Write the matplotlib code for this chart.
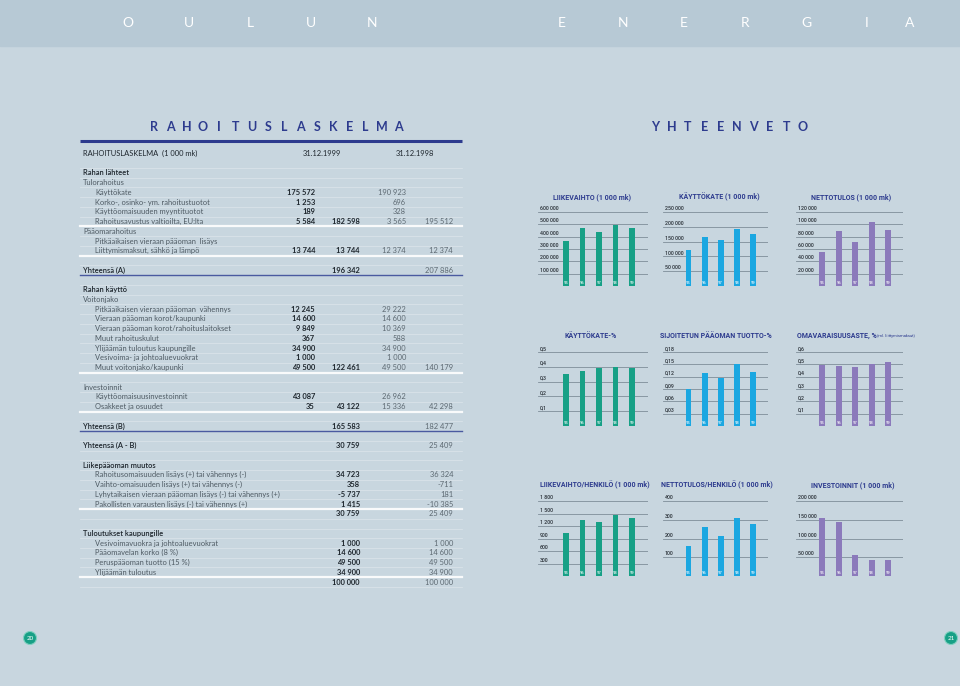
import matplotlib
matplotlib.use('Agg')
import matplotlib.pyplot as plt
from matplotlib.patches import Circle, Rectangle

W, H = 960, 686
BG = '#c8d6df'
BAND = '#b7c9d5'
NAVY = '#2d3b8e'
GREEN = '#17a086'
BLUE = '#1ba7e1'
PURPLE = '#8b7abb'
GRID = '#7e8e99'
DARK = '#1e262d'
GREY = '#4e5a63'
GREY98 = '#5d6972'

# ---------------- chart data ----------------
years = ['95', '96', '97', '98', '99']
liikevaihto = [366000, 470000, 437000, 491000, 467000]
kayttokate = [122000, 165000, 157000, 190923, 175572]
nettotulos = [55000, 88500, 72000, 103000, 91000]
kayttokate_pct = [0.353, 0.373, 0.389, 0.396, 0.394]
sijoitetun_tuotto = [0.091, 0.129, 0.116, 0.152, 0.132]
omavaraisuus = [0.498, 0.484, 0.479, 0.506, 0.517]
liikevaihto_henk = [1043, 1354, 1306, 1465, 1386]
nettotulos_henk = [159, 260, 216, 310, 280]
investoinnit = [155000, 143000, 55000, 42298, 43122]

ticks_lv = [100000, 200000, 300000, 400000, 500000, 600000]
labels_lv = ['100 000', '200 000', '300 000', '400 000', '500 000', '600 000']
ticks_kk = [50000, 100000, 150000, 200000, 250000]
labels_kk = ['50 000', '100 000', '150 000', '200 000', '250 000']
ticks_nt = [20000, 40000, 60000, 80000, 100000, 120000]
labels_nt = ['20 000', '40 000', '60 000', '80 000', '100 000', '120 000']
ticks_kkp = [0.1, 0.2, 0.3, 0.4, 0.5]
labels_kkp = ['0,1', '0,2', '0,3', '0,4', '0,5']
ticks_st = [0.03, 0.06, 0.09, 0.12, 0.15, 0.18]
labels_st = ['0,03', '0,06', '0,09', '0,12', '0,15', '0,18']
ticks_ov = [0.1, 0.2, 0.3, 0.4, 0.5, 0.6]
labels_ov = ['0,1', '0,2', '0,3', '0,4', '0,5', '0,6']
ticks_lvh = [300, 600, 900, 1200, 1500, 1800]
labels_lvh = ['300', '600', '900', '1 200', '1 500', '1 800']
ticks_nth = [100, 200, 300, 400]
labels_nth = ['100', '200', '300', '400']
ticks_inv = [50000, 100000, 150000, 200000]
labels_inv = ['50 000', '100 000', '150 000', '200 000']

chart_titles = ['LIIKEVAIHTO (1 000 mk)', 'KÄYTTÖKATE (1 000 mk)', 'NETTOTULOS (1 000 mk)',
                'KÄYTTÖKATE-%', 'SIJOITETUN PÄÄOMAN TUOTTO-%', 'OMAVARAISUUSASTE, %',
                'LIIKEVAIHTO/HENKILÖ (1 000 mk)', 'NETTOTULOS/HENKILÖ (1 000 mk)', 'INVESTOINNIT (1 000 mk)']
omav_note = '(ml. liittymismaksut)'

# ---------------- table data ----------------
row_labels = [
    'RAHOITUSLASKELMA  (1 000 mk)', '', 'Rahan lähteet', 'Tulorahoitus', 'Käyttökate',
    'Korko-, osinko- ym. rahoitustuotot', 'Käyttöomaisuuden myyntituotot',
    'Rahoitusavustus valtioilta, EU:lta', 'Pääomarahoitus', 'Pitkäaikaisen vieraan pääoman  lisäys',
    'Liittymismaksut, sähkö ja lämpö', '', 'Yhteensä (A)', '', 'Rahan käyttö', 'Voitonjako',
    'Pitkäaikaisen vieraan pääoman  vähennys', 'Vieraan pääoman korot/kaupunki',
    'Vieraan pääoman korot/rahoituslaitokset', 'Muut rahoituskulut', 'Ylijäämän tuloutus kaupungille',
    'Vesivoima- ja johtoaluevuokrat', 'Muut voitonjako/kaupunki', '', 'Investoinnit',
    'Käyttöomaisuusinvestoinnit', 'Osakkeet ja osuudet', '', 'Yhteensä (B)', '', 'Yhteensä (A - B)', '',
    'Liikepääoman muutos', 'Rahoitusomaisuuden lisäys (+) tai vähennys (-)',
    'Vaihto-omaisuuden lisäys (+) tai vähennys (-)',
    'Lyhytaikaisen vieraan pääoman lisäys (-) tai vähennys (+)',
    'Pakollisten varausten lisäys (-) tai vähennys (+)', '', '', 'Tuloutukset kaupungille',
    'Vesivoimavuokra ja johtoaluevuokrat', 'Pääomavelan korko (8 %)', 'Peruspääoman tuotto (15 %)',
    'Ylijäämän tuloutus', '']
row_styles = [
    'head', '', 'sec', 'sub', 'item', 'item', 'item', 'item', 'sub', 'item', 'item', '', 'total', '',
    'sec', 'sub', 'item', 'item', 'item', 'item', 'item', 'item', 'item', '', 'sub', 'item', 'item', '',
    'total', '', 'total', '', 'sec', 'item', 'item', 'item', 'item', 'sum', '', 'sec', 'item', 'item',
    'item', 'item', 'sum']
v99_items = ['', '', '', '', '175 572', '1 253', '189', '5 584', '', '', '13 744', '', '', '', '', '',
             '12 245', '14 600', '9 849', '367', '34 900', '1 000', '49 500', '', '', '43 087', '35', '',
             '', '', '', '', '', '', '', '', '', '', '', '', '', '', '', '', '']
v99_totals = ['', '', '', '', '', '', '', '182 598', '', '', '13 744', '', '196 342', '', '', '', '', '',
              '', '', '', '', '122 461', '', '', '', '43 122', '', '165 583', '', '30 759', '', '',
              '34 723', '358', '-5 737', '1 415', '30 759', '', '', '1 000', '14 600', '49 500',
              '34 900', '100 000']
v98_items = ['', '', '', '', '190 923', '696', '328', '3 565', '', '', '12 374', '', '', '', '', '',
             '29 222', '14 600', '10 369', '588', '34 900', '1 000', '49 500', '', '', '26 962', '15 336',
             '', '', '', '', '', '', '', '', '', '', '', '', '', '', '', '', '', '']
v98_totals = ['', '', '', '', '', '', '', '195 512', '', '', '12 374', '', '207 886', '', '', '', '', '',
              '', '', '', '', '140 179', '', '', '', '42 298', '', '182 477', '', '25 409', '', '',
              '36 324', '-711', '181', '-10 385', '25 409', '', '', '1 000', '14 600', '49 500',
              '34 900', '100 000']
col_headers = ['31.12.1999', '31.12.1998']
white_rule_after = [7, 10, 22, 26, 36, 43]
navy_rule_after = [12, 28]

top_left_letters = ['O', 'U', 'L', 'U', 'N']
top_right_letters = ['E', 'N', 'E', 'R', 'G', 'I', 'A']

TF = ['Lato', 'DejaVu Sans']
NARROW = ['Roboto', 'DejaVu Sans']

fig = plt.figure(figsize=(W / 100, H / 100), dpi=100)
fig.patch.set_facecolor(BG)
bg = fig.add_axes([0, 0, 1, 1])
bg.set_xlim(0, W)
bg.set_ylim(H, 0)
bg.axis('off')

# top band
bg.add_patch(Rectangle((0, 0), W, 46, color=BAND, zorder=0))
for i, ch in enumerate(top_left_letters):
    bg.text(128 + i * 61, 23, ch, color='white', fontsize=10, ha='center', va='center', family=TF)
for i, ch in enumerate(top_right_letters):
    x = 562 + i * 61 if i < 6 else 910
    bg.text(x, 23, ch, color='white', fontsize=10, ha='center', va='center', family=TF)

# section titles
for i, ch in enumerate('RAHOITUSLASKELMA'):
    bg.text(154 + i * 16.27, 127, ch, color=NAVY, fontsize=9, fontweight='bold', ha='center',
            va='center', family=TF)
for i, ch in enumerate('YHTEENVETO'):
    bg.text(655 + i * 16.4, 127, ch, color=NAVY, fontsize=9, fontweight='bold', ha='center',
            va='center', family=TF)
bg.plot([80, 462], [141, 141], color=NAVY, lw=2.2, solid_capstyle='butt')

# ---------------- table ----------------
Y0, DY = 153.3, 9.745
cols = [315, 360, 406, 453]
FS = 5.4
for i in range(len(row_labels)):
    y = Y0 + i * DY
    st = row_styles[i]
    lab = row_labels[i]
    if i >= 1:
        if i in white_rule_after:
            bg.plot([80, 462], [y + 4.9, y + 4.9], color='white', lw=1.6, alpha=0.9)
        elif i in navy_rule_after:
            bg.plot([80, 462], [y + 4.9, y + 4.9], color='#4a5aa0', lw=1.0)
        else:
            bg.plot([80, 462], [y + 4.9, y + 4.9], color='white', lw=0.6, alpha=0.3)
    if st == 'head':
        bg.text(83, y, lab, fontsize=FS, color=DARK, va='center', ha='left', family=TF)
        bg.text(322, y, col_headers[0], fontsize=FS, color=DARK, va='center', ha='center', family=TF)
        bg.text(415, y, col_headers[1], fontsize=FS, color=DARK, va='center', ha='center', family=TF)
        continue
    if st in ('sec', 'total'):
        bg.text(83, y, lab, fontsize=FS, color=DARK, va='center', ha='left', family=TF,
                fontweight='semibold')
    elif st == 'sub':
        bg.text(83, y, lab, fontsize=FS, color=GREY, va='center', ha='left', family=TF)
    elif st == 'item':
        bg.text(95, y, lab, fontsize=FS, color=GREY, va='center', ha='left', family=TF)
    if v99_items[i]:
        bg.text(cols[0], y, v99_items[i], fontsize=FS, color=DARK, va='center', ha='right',
                family=TF, fontweight='bold')
    if v99_totals[i]:
        bg.text(cols[1], y, v99_totals[i], fontsize=FS, color=DARK, va='center', ha='right',
                family=TF, fontweight='bold')
    if v98_items[i]:
        bg.text(cols[2], y, v98_items[i], fontsize=FS, color=GREY98, va='center', ha='right',
                family=TF)
    if v98_totals[i]:
        bg.text(cols[3], y, v98_totals[i], fontsize=FS, color=GREY98, va='center', ha='right',
                family=TF)

# ---------------- charts ----------------
col_geom = [(538, 648, (-1.7, 4.97)), (663, 768, (-1.58, 4.93)), (796, 903, (-1.6, 4.9))]
row_geom = [(212, 286), (352, 426), (501, 576)]
title_pos = [(592, 197), (719, 197), (851, 197), (591, 336), (716, 336), (797, 336),
             (595, 485), (717, 485), (853, 485)]

charts = [
    (liikevaihto, ticks_lv, labels_lv, GREEN),
    (kayttokate, ticks_kk, labels_kk, BLUE),
    (nettotulos, ticks_nt, labels_nt, PURPLE),
    (kayttokate_pct, ticks_kkp, labels_kkp, GREEN),
    (sijoitetun_tuotto, ticks_st, labels_st, BLUE),
    (omavaraisuus, ticks_ov, labels_ov, PURPLE),
    (liikevaihto_henk, ticks_lvh, labels_lvh, GREEN),
    (nettotulos_henk, ticks_nth, labels_nth, BLUE),
    (investoinnit, ticks_inv, labels_inv, PURPLE),
]

for k, (vals, ticks, tlabels, color) in enumerate(charts):
    r, c = divmod(k, 3)
    l, rr, xl = col_geom[c]
    t, b = row_geom[r]
    ax = fig.add_axes([l / W, 1 - b / H, (rr - l) / W, (b - t) / H])
    ax.set_xlim(*xl)
    top = ticks[-1]
    ax.set_ylim(0, top)
    ax.axis('off')
    for tv, tl in zip(ticks, tlabels):
        ax.axhline(tv, color=GRID, lw=0.6, zorder=1)
        ax.text(xl[0] + 0.1, tv + top * 0.012, tl, fontsize=3.8, color='#2a3138', ha='left',
                va='bottom', family=NARROW, fontweight='medium')
    ax.axhline(0, color=GRID, lw=0.6, zorder=1)
    xs = list(range(len(years)))
    ax.bar(xs, vals, width=0.36, color=color, zorder=3, linewidth=0)
    for x, yr in zip(xs, years):
        ax.text(x, top * 0.012, yr, fontsize=3.0, color='white', alpha=0.75, ha='center',
                va='bottom', zorder=4, family=NARROW, fontweight='bold')
    tx, ty = title_pos[k]
    if k == 5:
        bg.text(tx, ty, chart_titles[k], fontsize=5.0, fontweight='bold', color=NAVY,
                ha='left', va='center', family=NARROW)
        bg.text(877, ty + 0.5, omav_note, fontsize=3.0, color=NAVY, ha='left', va='center',
                family=NARROW)
    else:
        bg.text(tx, ty, chart_titles[k], fontsize=5.0, fontweight='bold', color=NAVY,
                ha='center', va='center', family=NARROW)

# page numbers
for (px, py, num) in [(30, 638, '20'), (951, 638, '21')]:
    bg.add_patch(Circle((px, py), 6.5, facecolor=GREEN, edgecolor='#7fd0bf', lw=0.8, zorder=5))
    bg.text(px, py, num, fontsize=4.5, color='white', ha='center', va='center', zorder=6,
            family=TF)

fig.savefig('out.png', dpi=100, facecolor=BG)
